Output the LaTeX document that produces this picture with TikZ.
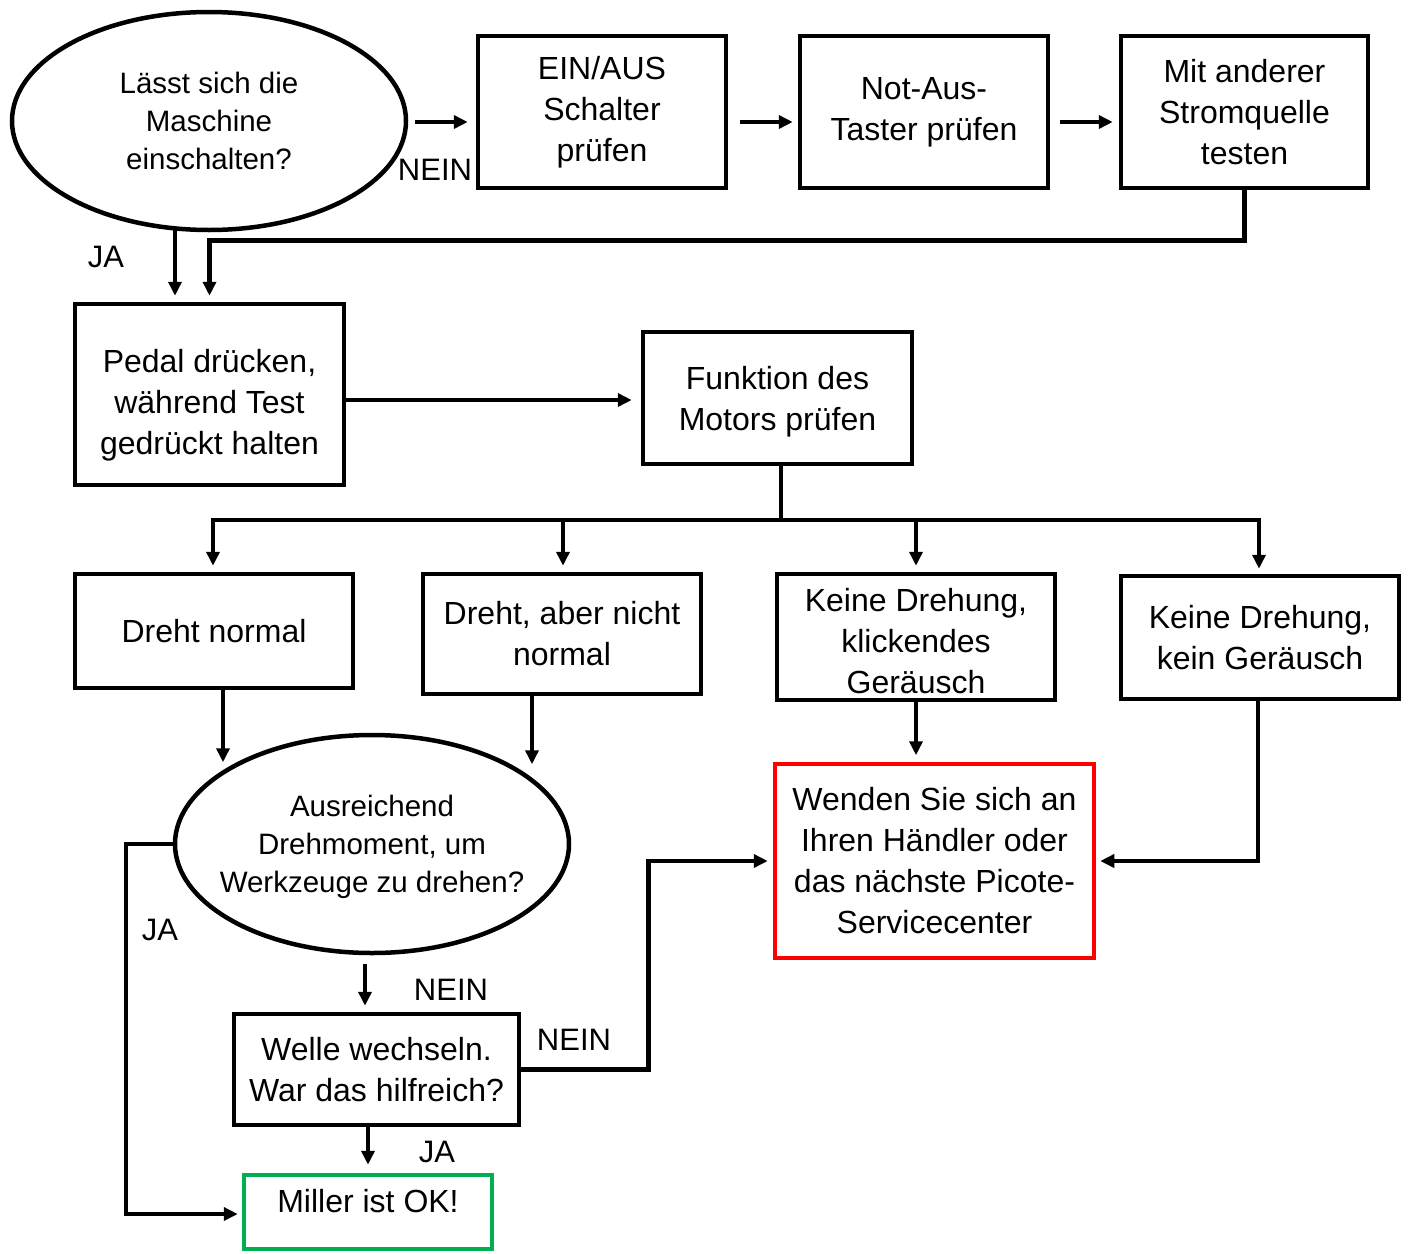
\documentclass[tikz,border=0pt]{standalone}
\usepackage{fontspec}
\setmainfont{Liberation Sans}
\usetikzlibrary{shapes.geometric,arrows.meta}
\definecolor{okgreen}{HTML}{00B050}
\definecolor{redbox}{HTML}{FF0000}
\tikzset{
  base/.style={line width=4.5pt, inner sep=0pt, align=center},
  box/.style={base, draw, rectangle, font=\fontsize{32}{41}\selectfont},
  oval/.style={base, draw, ellipse, font=\fontsize{29.5}{38}\selectfont},
  boxtxt/.style={font=\fontsize{32}{41}\selectfont, align=center, inner sep=0pt},
  ovaltxt/.style={font=\fontsize{29.5}{38}\selectfont, align=center, inner sep=0pt},
  lbl/.style={font=\fontsize{31}{41}\selectfont, inner sep=0pt},
  arr/.style={line width=4.5pt, -{Triangle[length=14pt,width=13pt]}},
  ln/.style={line width=4.5pt}
}
\begin{document}
\begin{tikzpicture}[x=1pt,y=-1pt]
\useasboundingbox (0,0) rectangle (1408,1253);
% nodes
\node (e1) [oval, minimum width=394, minimum height=218] at (209,121) {Lässt sich die\\Maschine\\einschalten?};
\node (b1) [box, minimum width=248, minimum height=152] at (602,112) {EIN/AUS\\Schalter\\prüfen};
\node (b2) [box, minimum width=248, minimum height=152] at (924,112) {Not-Aus-\\Taster prüfen};
\node (b3) [box, minimum width=247, minimum height=152] at (1244.5,112) {Mit anderer\\Stromquelle\\testen};
\node (pedal) [box, minimum width=269, minimum height=181,
  label={[boxtxt, yshift=-11]center:{Pedal drücken,\\während Test\\gedrückt halten}}] at (209.5,394.5) {};
\node (funk) [box, minimum width=269, minimum height=132,
  label={[boxtxt, yshift=-4]center:{Funktion des\\Motors prüfen}}] at (777.5,398) {};
\node (d1) [box, minimum width=278, minimum height=114] at (214,631) {Dreht normal};
\node (d2) [box, minimum width=278, minimum height=120] at (562,634) {Dreht, aber nicht\\normal};
\node (d3) [box, minimum width=278, minimum height=126,
  label={[boxtxt, yshift=-4]center:{Keine Drehung,\\klickendes\\Geräusch}}] at (916,637) {};
\node (d4) [box, minimum width=278, minimum height=123] at (1260,637.5) {Keine Drehung,\\kein Geräusch};
\node (e2) [oval, minimum width=394, minimum height=218,
  label={[ovaltxt, yshift=-3]center:{Ausreichend\\Drehmoment, um\\Werkzeuge zu drehen?}}] at (372,844) {};
\node (red) [box, draw=redbox, minimum width=319, minimum height=194] at (934.5,861) {Wenden Sie sich an\\Ihren Händler oder\\das nächste Picote-\\Servicecenter};
\node (welle) [box, minimum width=285, minimum height=111] at (376.5,1069.5) {Welle wechseln.\\War das hilfreich?};
\node (miller) [box, draw=okgreen, minimum width=248, minimum height=74,
  label={[boxtxt, yshift=11]center:{Miller ist OK!}}] at (368,1212) {};
% labels
\node (l1) [lbl] at (435,170) {NEIN};
\node (l2) [lbl] at (106,257) {JA};
\node (l3) [lbl] at (160,930) {JA};
\node (l4) [lbl] at (451,990) {NEIN};
\node (l5) [lbl] at (574,1040) {NEIN};
\node (l6) [lbl] at (437,1152) {JA};
% connectors
\draw[arr] ([xshift=7,yshift=-1]e1.east) -- ([xshift=-8,yshift=-10]b1.west);
\draw[arr] ([xshift=12,yshift=-10]b1.east) -- ([xshift=-5,yshift=-10]b2.west);
\draw[arr] ([xshift=10,yshift=-10]b2.east) -- ([xshift=-6,yshift=-10]b3.west);
\draw[arr] ([yshift=2]b3.south) -- ++(0,52) -| ([yshift=6]pedal.north);
\draw[arr] ([xshift=-34,yshift=4]e1.south) -- ([xshift=-34.5,yshift=6]pedal.north);
\draw[arr] ([yshift=-5.5]pedal.east) -- ([xshift=-9,yshift=-2]funk.west);
\coordinate (bus) at (781,520);
\draw[ln] ([xshift=3.5]funk.south) -- (bus);
\draw[arr] (bus) -| ([xshift=-1,yshift=6]d1.north);
\draw[arr] (bus) -| ([xshift=1,yshift=6]d2.north);
\draw[arr] (bus) -| ([yshift=6]d3.north);
\draw[arr] (bus) -| ([xshift=-1,yshift=5]d4.north);
\draw[arr] ([xshift=9]d1.south) -- ++(0,72);
\draw[arr] ([xshift=-30]d2.south) -- ++(0,68);
\draw[arr] (d3.south) -- ++(0,53);
\draw[arr] ([xshift=-2]d4.south) |- ([xshift=4]red.east);
\draw[arr] (e2.west) -- ++(-47,0) |- ([xshift=-4,yshift=-2]miller.west);
\draw[arr] ([xshift=-7,yshift=-9]e2.south) -- ([xshift=-11.5,yshift=6]welle.north);
\draw[arr] (welle.east) -- ++(127,0) |- ([xshift=-5]red.west);
\draw[arr] ([xshift=-8.5]welle.south) -- ([yshift=8]miller.north);
\end{tikzpicture}
\end{document}
